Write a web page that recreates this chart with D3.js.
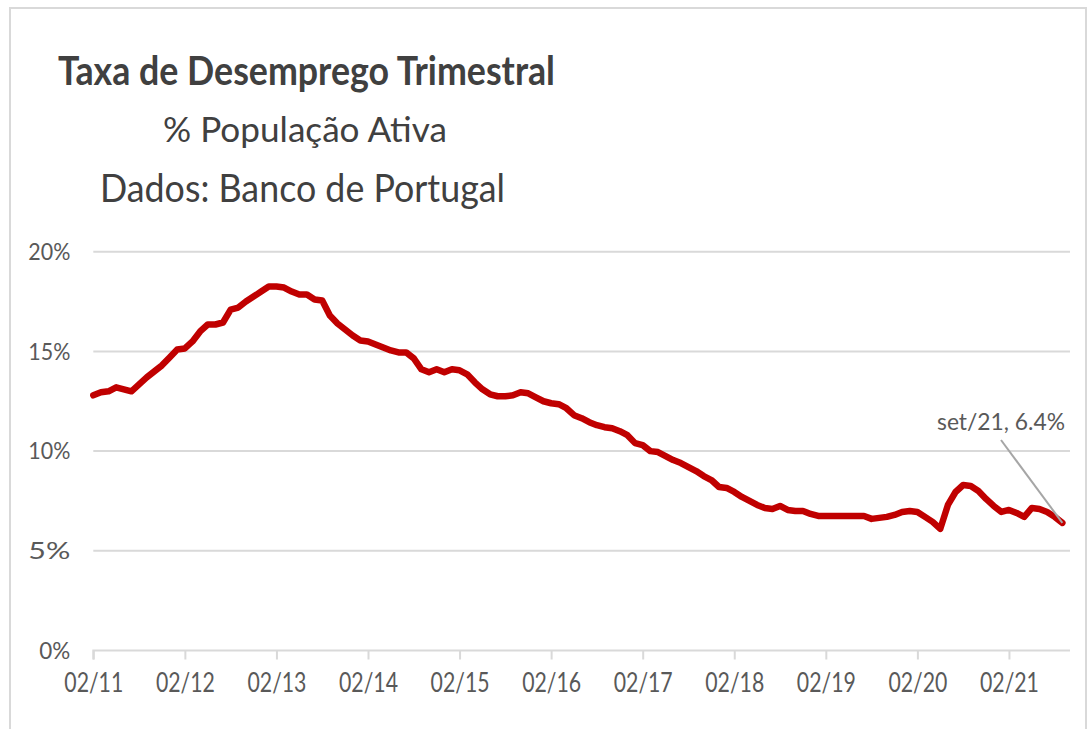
<!DOCTYPE html>
<html>
<head>
<meta charset="utf-8">
<script src="https://cdn.jsdelivr.net/npm/d3@7"></script>
<style>
  html, body { margin: 0; padding: 0; background: #fff; }
  svg { display: block; }
  text { font-family: Lato, "Open Sans", sans-serif; }
</style>
</head>
<body>
<svg id="chart" width="1092" height="729"></svg>
<script>
// Monthly unemployment rate (3-month rolling), Feb 2011 .. Sep 2021
const rates = [
  12.8, 12.95, 13.0, 13.2, 13.1, 13.0, 13.35, 13.7, 14.0, 14.3, 14.7, 15.1,
  15.15, 15.5, 16.0, 16.35, 16.35, 16.45, 17.1, 17.2, 17.5, 17.75, 18.0, 18.25,
  18.25, 18.2, 18.0, 17.85, 17.85, 17.6, 17.55, 16.8, 16.4, 16.1, 15.8, 15.55,
  15.5, 15.35, 15.2, 15.05, 14.95, 14.95, 14.65, 14.1, 13.95, 14.1, 13.95, 14.1,
  14.05, 13.85, 13.45, 13.1, 12.85, 12.75, 12.75, 12.8, 12.95, 12.9, 12.7, 12.5,
  12.4, 12.35, 12.15, 11.8, 11.65, 11.45, 11.3, 11.2, 11.15, 11.0, 10.8, 10.4,
  10.3, 10.0, 9.95, 9.75, 9.55, 9.4, 9.2, 9.0, 8.75, 8.55, 8.2, 8.15,
  7.95, 7.7, 7.5, 7.3, 7.15, 7.1, 7.25, 7.05, 7.0, 7.0, 6.85, 6.75,
  6.75, 6.75, 6.75, 6.75, 6.75, 6.75, 6.6, 6.65, 6.7, 6.8, 6.95, 7.0,
  6.95, 6.7, 6.45, 6.1, 7.3, 7.95, 8.3, 8.25, 8.0, 7.6, 7.25, 6.95,
  7.05, 6.9, 6.7, 7.15, 7.1, 6.95, 6.7, 6.4
];
const xTickIndex = [0, 12, 24, 36, 48, 60, 72, 84, 96, 108, 120];
const xTickLabels = ["02/11", "02/12", "02/13", "02/14", "02/15", "02/16", "02/17", "02/18", "02/19", "02/20", "02/21"];
const yTicks = [0, 5, 10, 15, 20];
const titleLines = ["Taxa de Desemprego Trimestral", "% População Ativa", "Dados: Banco de Portugal"];
const annotationText = "set/21, 6.4%";

const svg = d3.select("#chart");

// frame
svg.append("rect")
  .attr("x", 10).attr("y", 8).attr("width", 1076).attr("height", 740)
  .attr("fill", "none").attr("stroke", "#d9d9d9").attr("stroke-width", 2);

const x = d3.scaleLinear().domain([0, 128]).range([93.3, 1070]);
const y = d3.scaleLinear().domain([0, 20]).range([650.5, 251.7]);

// gridlines
svg.append("g").selectAll("line").data(yTicks.filter(d => d > 0)).join("line")
  .attr("x1", x(0)).attr("x2", x(128))
  .attr("y1", d => y(d)).attr("y2", d => y(d))
  .attr("stroke", "#d9d9d9").attr("stroke-width", 2);

// x axis
const xAxis = d3.axisBottom(x)
  .tickValues(xTickIndex)
  .tickFormat((d, i) => xTickLabels[i])
  .tickSize(9).tickPadding(13);
const gx = svg.append("g").attr("transform", `translate(0,${y(0)})`).call(xAxis);
gx.select(".domain").attr("stroke", "#d9d9d9").attr("stroke-width", 2).attr("d", `M${x(0)},0V9V0H${x(128)}`);
gx.selectAll(".tick line").attr("stroke", "#d9d9d9").attr("stroke-width", 2);
gx.selectAll(".tick text")
  .attr("font-size", 27).attr("fill", "#595959")
  .attr("font-family", "Lato, sans-serif")
  .attr("textLength", 59).attr("lengthAdjust", "spacingAndGlyphs");

// y axis
const yAxis = d3.axisLeft(y).tickValues(yTicks).tickFormat(d => d + "%").tickSize(0).tickPadding(23);
const gy = svg.append("g").attr("transform", `translate(${x(0)},0)`).call(yAxis);
gy.select(".domain").remove();
gy.selectAll(".tick text")
  .attr("font-size", 24).attr("fill", "#595959")
  .attr("font-family", "Lato, sans-serif")
  .attr("textLength", d => d === 0 ? 31 : 42).attr("lengthAdjust", "spacingAndGlyphs");

// line
const line = d3.line().x((d, i) => x(i)).y(d => y(d)).curve(d3.curveLinear);
svg.append("path").datum(rates)
  .attr("d", line)
  .attr("fill", "none").attr("stroke", "#C00000")
  .attr("stroke-width", 6.5).attr("stroke-linejoin", "round").attr("stroke-linecap", "round");

// annotation
const lastI = rates.length - 1;
svg.append("line")
  .attr("x1", 1001).attr("y1", 440)
  .attr("x2", x(lastI)).attr("y2", y(rates[lastI]))
  .attr("stroke", "#a6a6a6").attr("stroke-width", 2);
svg.append("text")
  .attr("x", 1065).attr("y", 430).attr("text-anchor", "end")
  .attr("font-size", 23).attr("fill", "#595959")
  .attr("textLength", 128).attr("lengthAdjust", "spacingAndGlyphs")
  .text(annotationText);

// titles
const titleSpecs = [
  { y: 85, size: 40, weight: "bold", len: 497, cx: 306.5 },
  { y: 142, size: 35, weight: "normal", len: 284, cx: 305 },
  { y: 202, size: 39, weight: "normal", len: 405, cx: 302.5 }
];
svg.append("g").selectAll("text").data(titleLines).join("text")
  .attr("x", (d, i) => titleSpecs[i].cx)
  .attr("y", (d, i) => titleSpecs[i].y)
  .attr("text-anchor", "middle")
  .attr("font-size", (d, i) => titleSpecs[i].size)
  .attr("font-weight", (d, i) => titleSpecs[i].weight)
  .attr("fill", "#404040")
  .attr("textLength", (d, i) => titleSpecs[i].len)
  .attr("lengthAdjust", "spacingAndGlyphs")
  .text(d => d);
</script>
</body>
</html>
